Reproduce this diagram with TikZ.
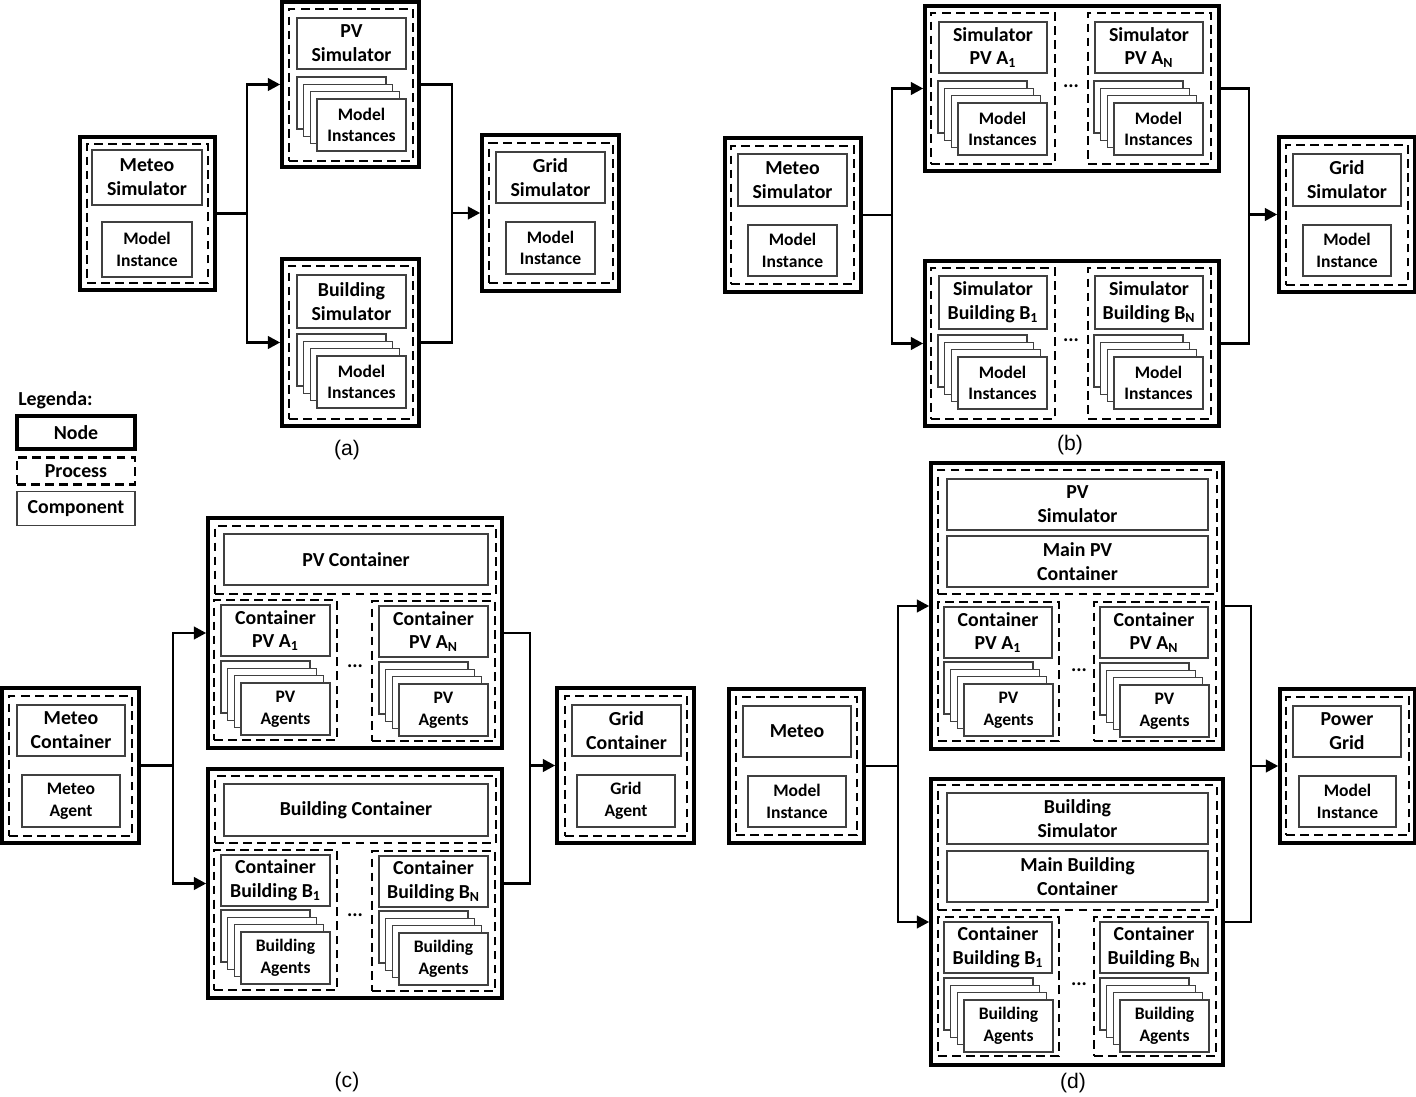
\documentclass[tikz,border=0pt]{standalone}
\usepackage{fontspec}
\setmainfont{Carlito}
\newfontfamily\capfont{Liberation Sans}
\usepackage{tikz}
\usetikzlibrary{arrows.meta, positioning}

\newcommand{\titlefont}{\fontsize{11.3}{13.6}\selectfont\bfseries}
\newcommand{\cardfont}{\fontsize{10}{12.3}\selectfont\bfseries}

% stack of four cards, #2,#3 = top left corner of the front card
\newcommand{\cardstack}[4]{%
  \foreach \k in {3,2,1}
    \draw[cardback] ({#2-6.7*\k},{#3-7.3*\k}) rectangle ++(89,52);
  \node[card, box={#2}{#3}{#2+89}{#3+52}] (#1) {#4};
}

\begin{document}
\begin{tikzpicture}[x=0.02cm, y=-0.02cm,
    box/.style n args={4}{minimum width={(#3-(#1))*0.02cm},
      minimum height={(#4-(#2))*0.02cm},
      at={({((#1)+(#3))/2},{((#2)+(#4))/2})}},
    nodebox/.style={draw, line width=2pt, inner sep=0pt},
    procbox/.style={draw, line width=1.6pt, dash pattern=on 5pt off 3pt,
      inner sep=0pt, align=center, font=\titlefont},
    comp/.style={draw=black!75, line width=0.9pt, fill=white, inner sep=0pt,
      align=center, font=\titlefont},
    card/.style={comp, font=\cardfont},
    cardback/.style={draw=black!75, line width=0.9pt, fill=white},
    legend/.style={minimum width=2.36cm, font=\titlefont},
    wire/.style={line width=1.6pt},
    conn/.style={wire, -{Triangle[length=7pt, width=7pt]}},
    dots/.style={font=\titlefont, inner sep=0pt},
    caption/.style={font=\capfont\fontsize{12}{14}\selectfont, inner sep=0pt}
]
\useasboundingbox (0,0) rectangle (1416,1097);

%% Legenda
\node[font=\titlefont, anchor=west, inner sep=0pt] (legTitle) at (18,400) {Legenda:};
\node[nodebox, legend, minimum height=0.66cm] (legNode) at (76,432.5) {Node};
\node[procbox, legend, minimum height=0.54cm, below=0.1cm of legNode] (legProc) {Process};
\node[comp, legend, minimum height=0.68cm, below=0.1cm of legProc] (legComp) {Component};

%% (a) simulatori
\node[nodebox, box={80}{137}{215}{290}] (aMeteo) {};
\node[procbox, box={87}{144}{208}{283}] (aMeteoP) {};
\node[comp, box={92}{150}{202}{205}] (aMeteoSim) {Meteo\\Simulator};
\node[card, box={102}{222}{192}{277}] (aMeteoInst) {Model\\Instance};

\node[nodebox, box={282}{2}{419}{167}] (aPV) {};
\node[procbox, box={289}{9}{413}{161}] (aPVP) {};
\node[comp, box={297}{18}{406}{69}] (aPVSim) {PV\\Simulator};
\cardstack{aPVInst}{317}{99}{Model\\Instances}

\node[nodebox, box={282}{259}{419}{426}] (aBld) {};
\node[procbox, box={289}{266}{413}{419}] (aBldP) {};
\node[comp, box={297}{275}{406}{328}] (aBldSim) {Building\\Simulator};
\cardstack{aBldInst}{317}{356}{Model\\Instances}

\node[nodebox, box={482}{135}{619}{291}] (aGrid) {};
\node[procbox, box={489}{143}{613}{283}] (aGridP) {};
\node[comp, box={496}{152}{605}{203}] (aGridSim) {Grid\\Simulator};
\node[card, box={506}{222}{595}{274}] (aGridInst) {Model\\Instance};

\coordinate (aSplit) at (247,213.5);
\coordinate (aJoin) at (452,213);
\draw[wire] (aMeteo) -- (aSplit);
\draw[conn] (aSplit) |- (aPV);
\draw[conn] (aSplit) |- (aBld);
\draw[wire] (aPV) -| (aJoin);
\draw[wire] (aBld) -| (aJoin);
\draw[conn] (aJoin) -- (aGrid);
\node[caption] (aCap) at (347,450) {(a)};

%% (b) un simulatore per ogni impianto
\node[nodebox, box={725}{138}{861}{292}] (bMeteo) {};
\node[procbox, box={731}{146}{854}{284}] (bMeteoP) {};
\node[comp, box={738}{154}{847}{206}] (bMeteoSim) {Meteo\\Simulator};
\node[card, box={748}{225}{837}{276}] (bMeteoInst) {Model\\Instance};

\node[nodebox, box={925}{6}{1219}{171}] (bPV) {};
\node[procbox, box={931}{13}{1055}{164}] (bPVA) {};
\node[procbox, box={1088}{13}{1211}{164}] (bPVN) {};
\node[comp, box={939}{22}{1047}{73}] (bSimA) {Simulator\\PV A\textsubscript{1}};
\cardstack{bInstA}{958}{103}{Model\\Instances}
\node[dots] (bDotsPV) at (1071,86) {...};
\node[comp, box={1095}{22}{1203}{73}] (bSimAN) {Simulator\\PV A\textsubscript{N}};
\cardstack{bInstAN}{1114}{103}{Model\\Instances}

\node[nodebox, box={925}{261}{1219}{426}] (bBld) {};
\node[procbox, box={931}{268}{1055}{419}] (bBldB) {};
\node[procbox, box={1088}{268}{1211}{419}] (bBldN) {};
\node[comp, box={939}{276}{1047}{329}] (bSimB) {Simulator\\Building B\textsubscript{1}};
\cardstack{bInstB}{958}{357}{Model\\Instances}
\node[dots] (bDotsBld) at (1071,340) {...};
\node[comp, box={1095}{276}{1203}{329}] (bSimBN) {Simulator\\Building B\textsubscript{N}};
\cardstack{bInstBN}{1114}{357}{Model\\Instances}

\node[nodebox, box={1279}{137}{1415}{292}] (bGrid) {};
\node[procbox, box={1286}{145}{1408}{285}] (bGridP) {};
\node[comp, box={1293}{154}{1401}{206}] (bGridSim) {Grid\\Simulator};
\node[card, box={1303}{225}{1391}{276}] (bGridInst) {Model\\Instance};

\coordinate (bSplit) at (892,215);
\coordinate (bJoin) at (1249,214.5);
\draw[wire] (bMeteo) -- (bSplit);
\draw[conn] (bSplit) |- (bPV);
\draw[conn] (bSplit) |- (bBld);
\draw[wire] (bPV) -| (bJoin);
\draw[wire] (bBld) -| (bJoin);
\draw[conn] (bJoin) -- (bGrid);
\node[caption] (bCap) at (1070,445) {(b)};

%% (c) container e agenti
\node[nodebox, box={2}{688}{139}{843}] (cMeteo) {};
\node[procbox, box={9}{696}{132}{836}] (cMeteoP) {};
\node[comp, box={17}{705}{125}{756}] (cMeteoCont) {Meteo\\Container};
\node[card, box={22}{775}{120}{827}] (cMeteoAg) {Meteo\\Agent};

\node[nodebox, box={208}{518}{502}{748}] (cPV) {};
\node[procbox, box={215}{526}{496}{594}] (cPVP) {};
\node[comp, box={224}{534}{488}{585}] (cPVCont) {PV Container};
\node[procbox, box={214}{600}{337}{740}] (cPVA) {};
\node[procbox, box={372}{601}{495}{741}] (cPVN) {};
\node[comp, box={221}{605}{330}{656}] (cContA) {Container\\PV A\textsubscript{1}};
\cardstack{cAgA}{241}{683}{PV\\Agents}
\node[dots] (cDotsPV) at (355,666) {...};
\node[comp, box={379}{606}{488}{657}] (cContAN) {Container\\PV A\textsubscript{N}};
\cardstack{cAgAN}{399}{684}{PV\\Agents}

\node[nodebox, box={208}{769}{502}{998}] (cBld) {};
\node[procbox, box={215}{776}{496}{843}] (cBldP) {};
\node[comp, box={224}{784}{488}{836}] (cBldCont) {Building Container};
\node[procbox, box={214}{850}{337}{990}] (cBldB) {};
\node[procbox, box={372}{851}{495}{991}] (cBldN) {};
\node[comp, box={221}{855}{330}{906}] (cContB) {Container\\Building B\textsubscript{1}};
\cardstack{cAgB}{241}{932}{Building\\Agents}
\node[dots] (cDotsBld) at (355,915) {...};
\node[comp, box={379}{856}{488}{907}] (cContBN) {Container\\Building B\textsubscript{N}};
\cardstack{cAgBN}{399}{933}{Building\\Agents}

\node[nodebox, box={557}{688}{694}{843}] (cGrid) {};
\node[procbox, box={565}{696}{687}{836}] (cGridP) {};
\node[comp, box={572}{705}{681}{756}] (cGridCont) {Grid\\Container};
\node[card, box={577}{775}{675}{827}] (cGridAg) {Grid\\Agent};

\coordinate (cSplit) at (173,765.5);
\coordinate (cJoin) at (530,765.5);
\draw[wire] (cMeteo) -- (cSplit);
\draw[conn] (cSplit) |- (cPV);
\draw[conn] (cSplit) |- (cBld);
\draw[wire] (cPV) -| (cJoin);
\draw[wire] (cBld) -| (cJoin);
\draw[conn] (cJoin) -- (cGrid);
\node[caption] (cCap) at (347,1082) {(c)};

%% (d) simulatori con container
\node[nodebox, box={729}{689}{864}{843}] (dMeteo) {};
\node[procbox, box={736}{697}{857}{835}] (dMeteoP) {};
\node[comp, box={743}{706}{851}{757}] (dMeteoSim) {Meteo};
\node[card, box={748}{776}{846}{827}] (dMeteoInst) {Model\\Instance};

\node[nodebox, box={931}{463}{1223}{749}] (dPV) {};
\node[procbox, box={938}{470}{1217}{594}] (dPVP) {};
\node[comp, box={947}{479}{1208}{530}] (dPVSim) {PV\\Simulator};
\node[comp, box={947}{536}{1208}{587}] (dPVMain) {Main PV\\Container};
\node[procbox, box={938}{602}{1059}{741}] (dPVA) {};
\node[procbox, box={1094}{602}{1216}{741}] (dPVN) {};
\node[comp, box={944}{607}{1052}{658}] (dContA) {Container\\PV A\textsubscript{1}};
\cardstack{dAgA}{964}{684}{PV\\Agents}
\node[dots] (dDotsPV) at (1079,670) {...};
\node[comp, box={1100}{607}{1208}{658}] (dContAN) {Container\\PV A\textsubscript{N}};
\cardstack{dAgAN}{1120}{685}{PV\\Agents}

\node[nodebox, box={931}{779}{1223}{1065}] (dBld) {};
\node[procbox, box={938}{785}{1217}{910}] (dBldP) {};
\node[comp, box={947}{793}{1208}{844}] (dBldSim) {Building\\Simulator};
\node[comp, box={947}{851}{1208}{902}] (dBldMain) {Main Building\\Container};
\node[procbox, box={938}{917}{1059}{1056}] (dBldB) {};
\node[procbox, box={1094}{917}{1216}{1056}] (dBldN) {};
\node[comp, box={944}{922}{1052}{973}] (dContB) {Container\\Building B\textsubscript{1}};
\cardstack{dAgB}{964}{1000}{Building\\Agents}
\node[dots] (dDotsBld) at (1079,984) {...};
\node[comp, box={1100}{922}{1208}{973}] (dContBN) {Container\\Building B\textsubscript{N}};
\cardstack{dAgBN}{1120}{1000}{Building\\Agents}

\node[nodebox, box={1280}{689}{1415}{843}] (dGrid) {};
\node[procbox, box={1286}{697}{1409}{835}] (dGridP) {};
\node[comp, box={1293}{706}{1401}{757}] (dGridSim) {Power\\Grid};
\node[card, box={1299}{776}{1396}{827}] (dGridInst) {Model\\Instance};

\coordinate (dSplit) at (898,766);
\coordinate (dJoin) at (1251,766);
\draw[wire] (dMeteo) -- (dSplit);
\draw[conn] (dSplit) |- (dPV);
\draw[conn] (dSplit) |- (dBld);
\draw[wire] (dPV) -| (dJoin);
\draw[wire] (dBld) -| (dJoin);
\draw[conn] (dJoin) -- (dGrid);
\node[caption] (dCap) at (1073,1083) {(d)};
\end{tikzpicture}
\end{document}
